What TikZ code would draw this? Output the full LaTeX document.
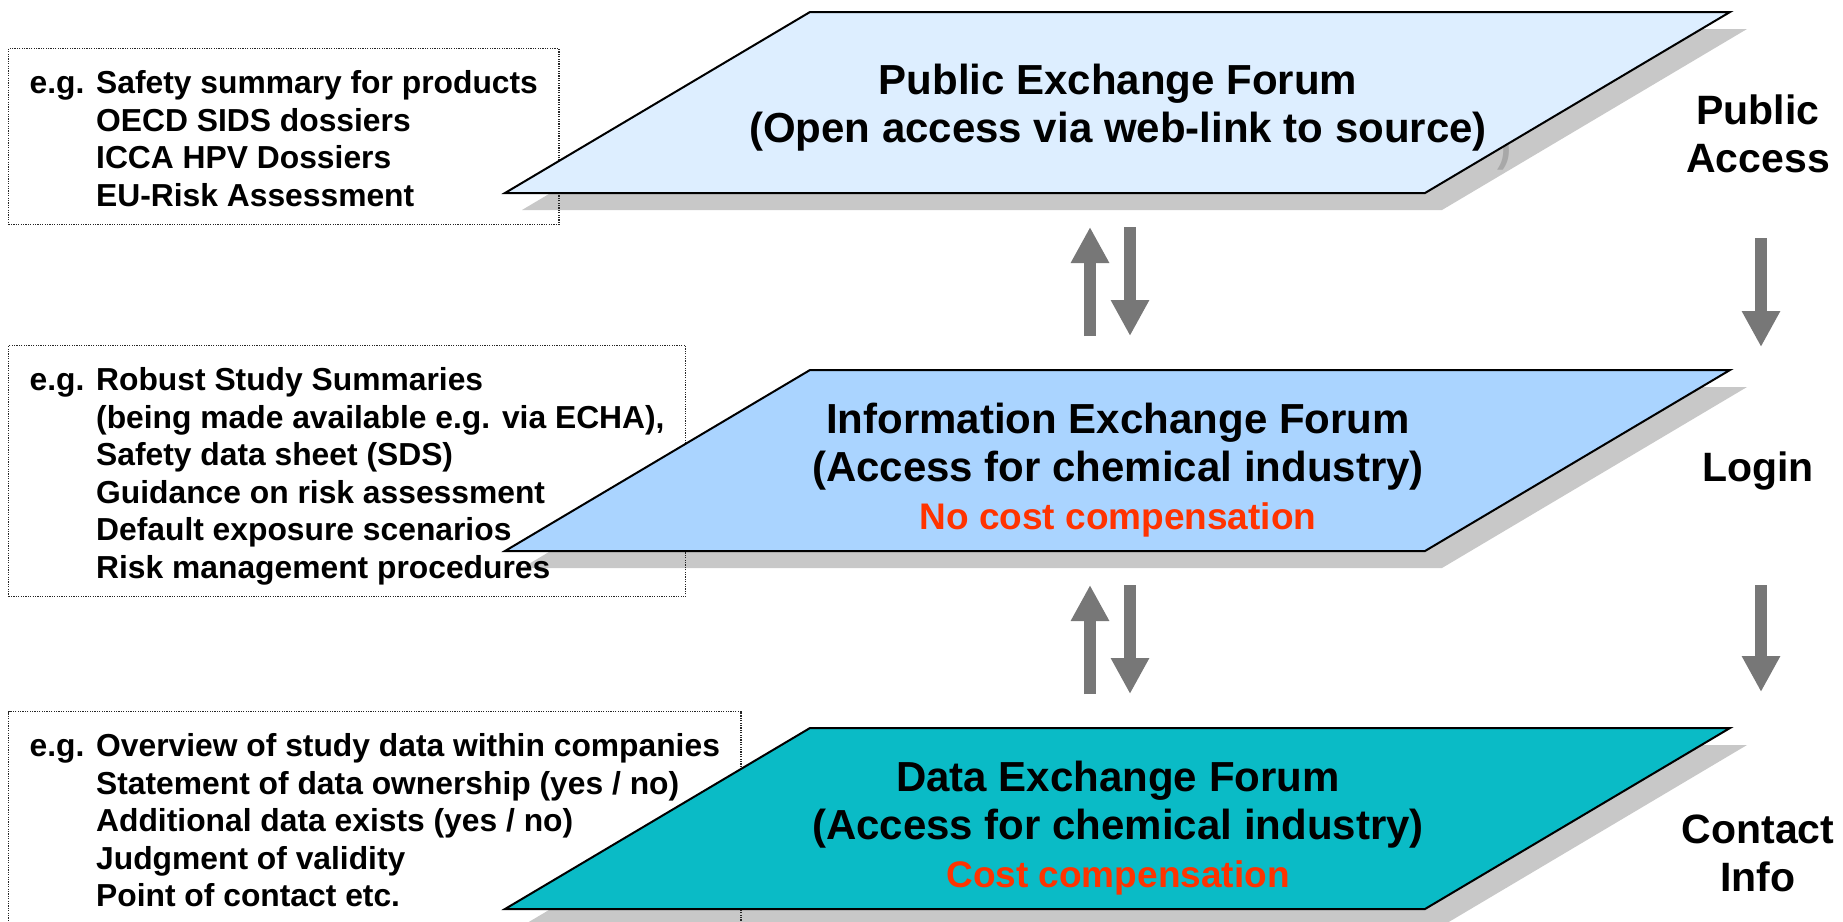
\documentclass[tikz,border=0pt]{standalone}
\usepackage{fontspec}
\setmainfont{Liberation Sans}
\usepackage{xcolor}
\usetikzlibrary{arrows.meta}

\definecolor{pubblue}{HTML}{DDEEFF}
\definecolor{infoblue}{HTML}{AAD4FF}
\definecolor{datateal}{HTML}{0ABBC6}
\definecolor{costred}{HTML}{FF3300}
\definecolor{shadowgray}{HTML}{C8C8C8}
\definecolor{ghostgray}{HTML}{A8A8A8}
\definecolor{arrowgray}{HTML}{777777}

% list text sits a little low in its box
\newcommand{\eglower}[1]{\raisebox{-6pt}[\height][\depth]{#1}}

\tikzset{
  forum/.style={draw=black, line width=2pt, line join=miter},
  egbox/.style={draw=black!85, line width=1.2pt, dash pattern=on 1.2pt off 1.2pt,
    anchor=north west, inner xsep=21pt, inner ysep=13pt,
    font=\fontsize{31.8}{37.5}\selectfont\bfseries},
  forumtext/.style={align=center, font=\fontsize{42}{48}\selectfont\bfseries},
  sidelabel/.style={align=center, font=\fontsize{41}{48}\selectfont\bfseries},
  flow/.style={draw=arrowgray, line width=12pt, -{Triangle[width=36pt,length=36pt]}},
}

\begin{document}
\begin{tikzpicture}[x=1pt,y=-1pt]
\useasboundingbox (0,0) rectangle (1843,921);

% shadows
\fill[shadowgray] (827,29)--(1747,29)--(1442,210)--(522,210)--cycle;
\fill[shadowgray] (827,387)--(1747,387)--(1442,568)--(522,568)--cycle;
\fill[shadowgray] (827,745)--(1747,745)--(1442,926)--(522,926)--cycle;
\node[text=ghostgray, anchor=base, inner sep=0pt, font=\fontsize{42}{48}\selectfont\bfseries] (ghostParen) at (1504,161) {)};

% example boxes
\node[egbox] (pubBox) at (8,48) {\eglower{\begin{tabular}{@{}l@{ }l@{}}
e.g. & Safety summary for products\\
 & OECD SIDS dossiers\\
 & ICCA HPV Dossiers\\
 & EU-Risk Assessment
\end{tabular}}};

\node[egbox] (infoBox) at (8,345) {\eglower{\begin{tabular}{@{}l@{ }l@{}}
e.g. & Robust Study Summaries\\
 & (being made available e.g. via ECHA),\\
 & Safety data sheet (SDS)\\
 & Guidance on risk assessment\\
 & Default exposure scenarios\\
 & Risk management procedures
\end{tabular}}};

\node[egbox] (dataBox) at (8,711) {\eglower{\begin{tabular}{@{}l@{ }l@{}}
e.g. & Overview of study data within companies\\
 & Statement of data ownership (yes / no)\\
 & Additional data exists (yes / no)\\
 & Judgment of validity\\
 & Point of contact etc.
\end{tabular}}};

% forums
\draw[forum, fill=pubblue] (810,12)--(1730,12)--(1425,193)--(505,193)--cycle;
\node[forumtext] (pubForum) at (1118,108) {Public Exchange Forum\\(Open access via web-link to source)};

\draw[forum, fill=infoblue] (810,370)--(1730,370)--(1425,551)--(505,551)--cycle;
\node[forumtext] (infoForum) at (1118,470) {Information Exchange Forum\\(Access for chemical industry)\\{\color{costred}\fontsize{37}{48}\selectfont No cost compensation}};

\draw[forum, fill=datateal] (810,728)--(1730,728)--(1425,909)--(505,909)--cycle;
\node[forumtext] (dataForum) at (1118,828) {Data Exchange Forum\\(Access for chemical industry)\\{\color{costred}\fontsize{37}{48}\selectfont Cost compensation}};

% access levels
\node[sidelabel] (pubLabel) at (1758,134) {Public\\Access};
\node[sidelabel] (loginLabel) at (1758,471) {Login};
\node[sidelabel] (contactLabel) at (1758,853) {Contact\\Info};

% arrows
\coordinate (pubUpA) at (1090,336);
\coordinate (pubUpB) at (1090,227);
\coordinate (pubDnA) at (1130,227);
\coordinate (pubDnB) at (1130,336);
\coordinate (dataUpA) at (1090,694);
\coordinate (dataUpB) at (1090,585);
\coordinate (dataDnA) at (1130,585);
\coordinate (dataDnB) at (1130,694);
\coordinate (loginA) at (1761,238);
\coordinate (loginB) at (1761,347);
\coordinate (contactA) at (1761,585);
\coordinate (contactB) at (1761,692);

\draw[flow] (pubUpA) -- (pubUpB);
\draw[flow] (pubDnA) -- (pubDnB);
\draw[flow] (dataUpA) -- (dataUpB);
\draw[flow] (dataDnA) -- (dataDnB);
\draw[flow] (loginA) -- (loginB);
\draw[flow] (contactA) -- (contactB);

\end{tikzpicture}
\end{document}
